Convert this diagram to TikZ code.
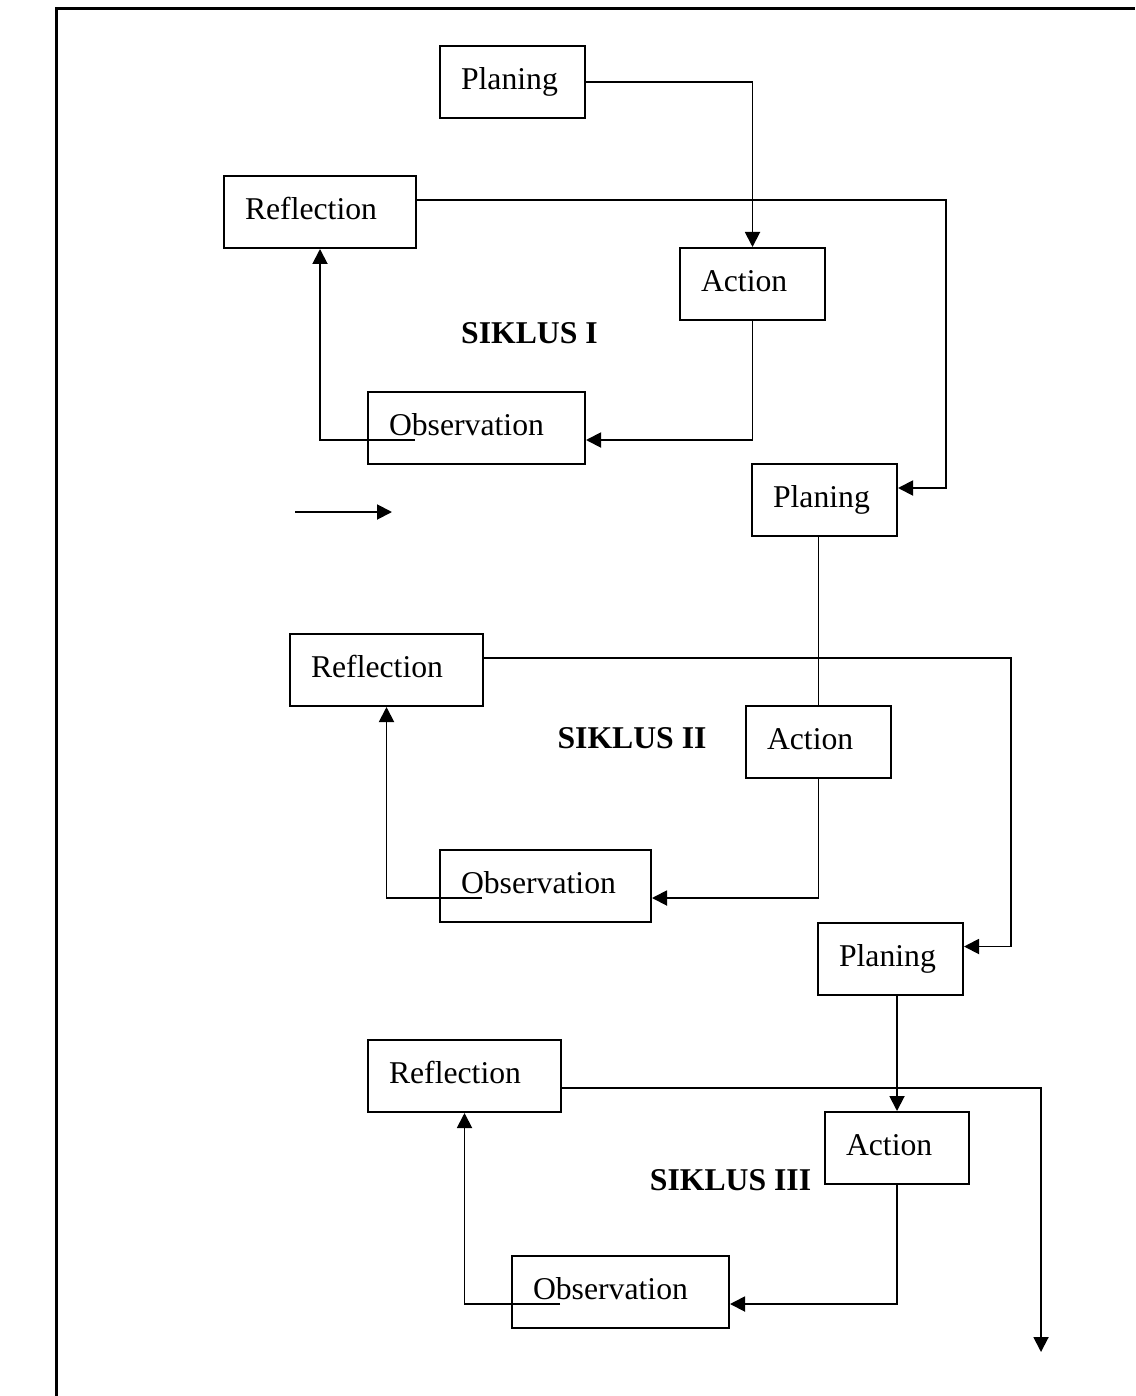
\documentclass[tikz,border=0pt]{standalone}
\usepackage{fontspec}
\setmainfont{Liberation Serif}
\usetikzlibrary{arrows.meta,calc}

\begin{document}
\begin{tikzpicture}[x=1pt, y=-1pt, line width=1.9pt,
    font=\fontsize{31.7}{38}\selectfont,
    block/.style={rectangle, draw, line width=2pt, minimum height=72pt, inner xsep=21pt, inner ysep=0pt,
      text width=#1, align=left, text height=22pt, text depth=7pt},
    siklus/.style={font=\fontsize{31.7}{38}\selectfont\bfseries, text height=22pt, text depth=7pt, inner sep=0pt},
    arr/.style={-{Triangle[length=15pt, width=15pt]}}]

\useasboundingbox (0,0) rectangle (1135,1396);
% frame
\draw[line width=2.4pt] (56.5,1396) -- (56.5,8.5) -- (1135,8.5);

% Siklus I
\node [block=103pt] (pl1) at (512.5,82) {Planing};
\node [block=150pt] (ref1) at (320,212) {Reflection};
\node [block=103pt] (act1) at (752.5,284) {Action};
\node [block=175pt] (obs1) at (476.5,428) {Observation};
\node [siklus] (sik1) at (529.5,335.5) {SIKLUS I};

% Siklus II
\node [block=103pt] (pl2) at (824.5,500) {Planing};
\node [block=151pt] (ref2) at (386.5,670) {Reflection};
\node [block=103pt] (act2) at (818.5,742) {Action};
\node [block=169pt] (obs2) at (545.5,886) {Observation};
\node [siklus] (sik2) at (632,740.5) {SIKLUS II};

% Siklus III
\node [block=103pt] (pl3) at (890.5,958.5) {Planing};
\node [block=151pt] (ref3) at (464.5,1076) {Reflection};
\node [block=102pt] (act3) at (897,1148) {Action};
\node [block=175pt] (obs3) at (620.5,1292) {Observation};
\node [siklus] (sik3) at (730.5,1182.5) {SIKLUS III};

\coordinate (s1) at (295,512);
\coordinate (s2) at (392,512);
\coordinate (end) at (1041,1352);

% Arrows
\draw[arr] (pl1.east) -| (act1.north);
\draw[arr] (act1.south) |- ($(obs1.east)+(0,12)$);
\draw[arr] ($(obs1.west)+(48,12)$) -| (ref1.south);
\draw[arr] ($(ref1.east)+(0,-12)$) -- ++(529,0) |- ($(pl2.east)+(0,-12)$);
\draw[arr] (s1) -- (s2);

\draw (pl2.south -| act2.north) -- (act2.north);
\draw[arr] (act2.south) |- ($(obs2.east)+(0,12)$);
\draw[arr] ($(obs2.west)+(43,12)$) -| (ref2.south);
\draw[arr] ($(ref2.east)+(0,-12)$) -- ++(527,0) |- ($(pl3.east)+(0,-12)$);

\draw[arr] (pl3.south -| act3.north) -- (act3.north);
\draw[arr] (act3.south) |- ($(obs3.east)+(0,12)$);
\draw[arr] ($(obs3.west)+(49,12)$) -| (ref3.south);
\draw[arr] ($(ref3.east)+(0,12)$) -| (end);

\end{tikzpicture}
\end{document}
